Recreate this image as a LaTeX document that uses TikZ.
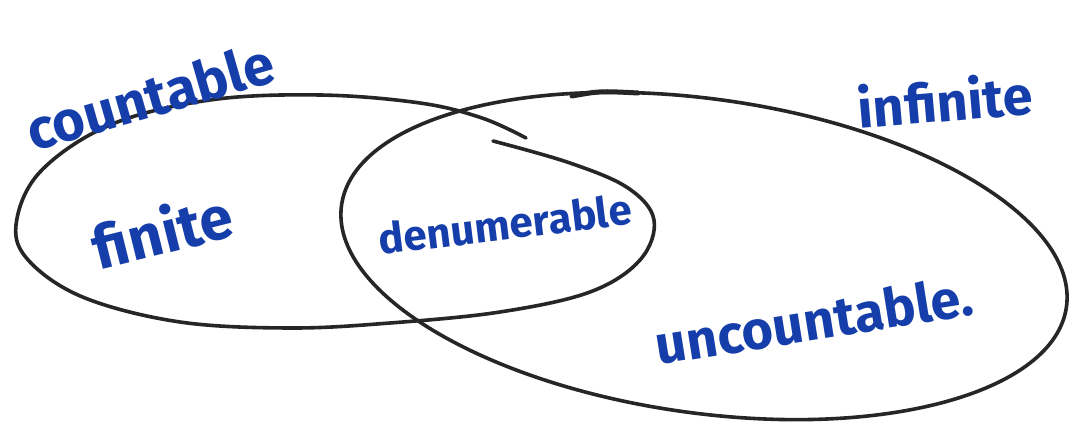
\documentclass[tikz,border=0pt]{standalone}
\usepackage{fontspec}
\setmainfont{Fira Sans}
\definecolor{ink}{RGB}{22,62,170}
\definecolor{pen}{RGB}{38,38,38}
\begin{document}
\begin{tikzpicture}[x=1pt,y=-1pt,
  loop/.style={draw=pen,line width=3.6pt,line cap=round,line join=round},
  word/.style={text=ink,font=\fontsize{#1}{#1}\selectfont\bfseries,inner sep=0pt}]
\useasboundingbox (0,0) rectangle (1074,427);
\fill[white] (0,0) rectangle (1074,427);
% countable set (open hand-drawn loop ending in a hook)
\draw[loop] plot[smooth,tension=0.6] coordinates {
  (493,141) (570,163) (628,188) (654,220) (640,260) (590,292) (500,312)
  (390,323) (290,328) (180,322) (85,298) (30,262) (16,225) (40,172)
  (110,125) (210,100) (320,95) (420,103) (482,118) (526,138)};
% infinite set
\draw[loop,rotate around={-8:(704,256)}] (704,256) ellipse [x radius=366, y radius=157];
\draw[loop,line width=5pt] (572,96) .. controls (600,91) .. (638,93);
\node[word=56,rotate=16] (countable) at (150,96) {countable};
\node[word=54,rotate=5] (infinite) at (945,100) {infinite};
\node[word=60,rotate=14] (finite) at (162,230) {finite};
\node[word=42,rotate=7] (denum) at (505,224) {denumerable};
\node[word=54,rotate=9] (uncount) at (814,320) {uncountable.};
\end{tikzpicture}
\end{document}
